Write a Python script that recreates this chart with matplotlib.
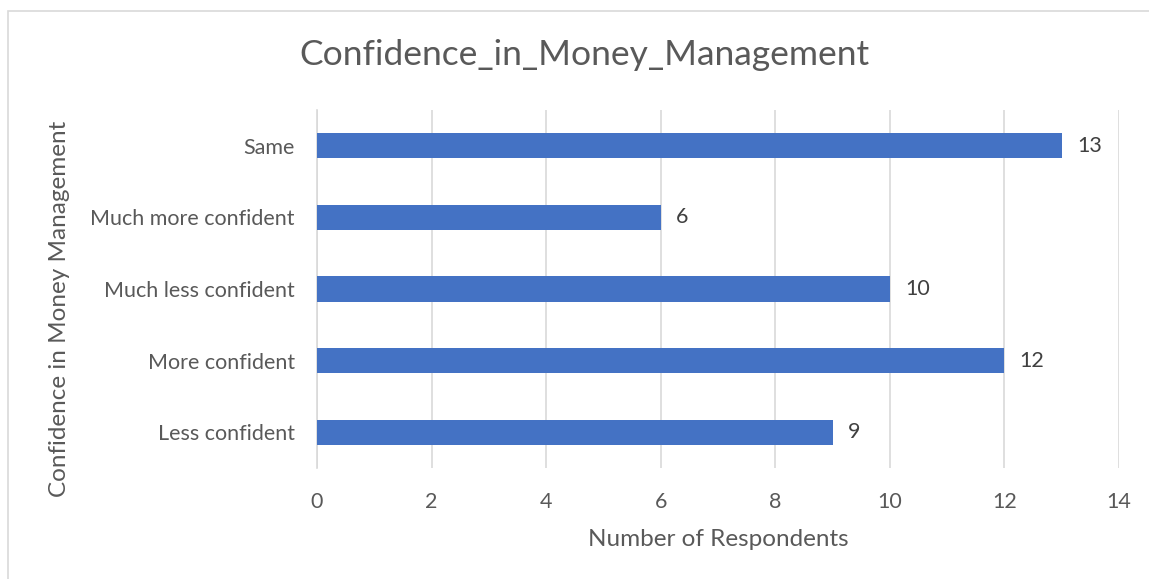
import matplotlib.pyplot as plt
from matplotlib.patches import Rectangle

categories = ['Less confident', 'More confident', 'Much less confident',
              'Much more confident', 'Same']
counts = [9, 12, 10, 6, 13]
xticks = [0, 2, 4, 6, 8, 10, 12, 14]

plt.rcParams['font.family'] = ['Lato', 'DejaVu Sans']
text_color = '#595959'
grid_color = '#D9D9D9'
bar_color = '#4472C4'

fig = plt.figure(figsize=(11.49, 5.79), dpi=100)
ax = fig.add_axes([317 / 1149, 1 - 468 / 579, 802 / 1149, 358 / 579])

y = range(len(categories))
ax.barh(y, counts, height=0.35, color=bar_color, zorder=3)
for yi, c in zip(y, counts):
    ax.annotate(str(c), (c, yi), xytext=(11, 0), textcoords='offset points',
                va='center', ha='left', fontsize=15.5, color='#404040')

ax.set_xlim(0, 14)
ax.set_ylim(-0.5, len(categories) - 0.5)
ax.set_xticks(xticks)
ax.set_yticks(list(y))
ax.set_yticklabels(categories)
ax.tick_params(axis='both', length=0, labelsize=15.5, labelcolor=text_color)
ax.tick_params(axis='x', pad=17)
ax.tick_params(axis='y', pad=16)
ax.grid(axis='x', color=grid_color, linewidth=1.2, zorder=0)
for s in ['top', 'right', 'bottom']:
    ax.spines[s].set_visible(False)
ax.spines['left'].set_color(grid_color)
ax.spines['left'].set_linewidth(1.2)

fig.text(584 / 1149, 1 - 55 / 579, 'Confidence_in_Money_Management',
         ha='center', va='center', fontsize=25.5, color=text_color)
fig.text(718 / 1149, 1 - 540 / 579, 'Number of Respondents',
         ha='center', va='center', fontsize=17.5, color=text_color)
fig.text(60 / 1149, 1 - 309 / 579, 'Confidence in Money Management',
         ha='center', va='center', rotation=90, fontsize=17.5, color=text_color)

fig.patches.append(Rectangle((8 / 1149, -0.1), 1.2, 1 - 11 / 579 + 0.1,
                             transform=fig.transFigure, fill=False,
                             edgecolor='#D9D9D9', linewidth=1.2))

fig.savefig('out.png', dpi=100)
